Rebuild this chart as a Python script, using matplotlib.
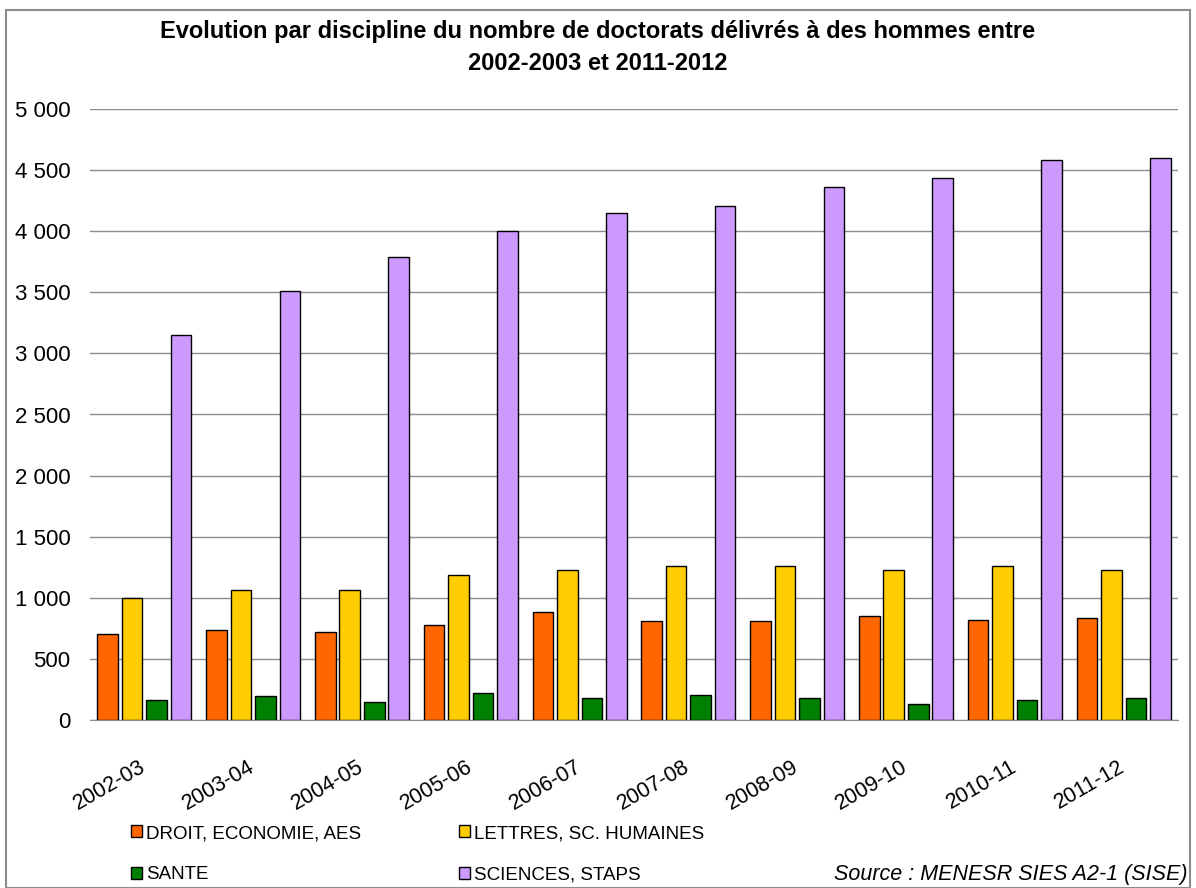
import matplotlib.pyplot as plt
import matplotlib.patches as patches
import matplotlib.transforms as mtransforms
import numpy as np

plt.rcParams['font.family'] = ['Liberation Sans', 'DejaVu Sans']

# Data
years = ['2002-03', '2003-04', '2004-05', '2005-06', '2006-07',
         '2007-08', '2008-09', '2009-10', '2010-11', '2011-12']
droit = [700, 733, 719, 777, 883, 807, 807, 850, 821, 837]
lettres = [1000, 1060, 1060, 1183, 1226, 1259, 1259, 1224, 1259, 1224]
sante = [163, 196, 147, 224, 180, 207, 180, 134, 163, 180]
sciences = [3150, 3510, 3790, 4000, 4150, 4210, 4360, 4435, 4580, 4600]

series = [
    ('DROIT, ECONOMIE, AES', droit, '#FF6600'),
    ('LETTRES, SC. HUMAINES', lettres, '#FFCC00'),
    ('SANTE', sante, '#008000'),
    ('SCIENCES, STAPS', sciences, '#CC99FF'),
]

W, H = 1196, 888
fig = plt.figure(figsize=(W / 100, H / 100), dpi=100)
ax = fig.add_axes([90 / W, 1 - 720 / H, (1178 - 90) / W, (720 - 109) / H])

x = np.arange(len(years))
step = 0.225
width = 0.19
bars = {}
for i, (name, vals, color) in enumerate(series):
    bars[name] = ax.bar(x + (i - 1.5) * step, vals, width, color=color,
                        edgecolor='black', linewidth=1, label=name, zorder=3)

ax.set_xlim(-0.5, len(years) - 0.5)
ax.set_ylim(0, 5000)
ax.set_yticks(range(0, 5001, 500))
ax.set_yticklabels([f'{v:,}'.replace(',', ' ') for v in range(0, 5001, 500)], fontsize=16)
ax.yaxis.grid(True, color='#8c8c8c', linewidth=1, zorder=0)
ax.set_xticks(x)
ax.set_xticklabels(years, fontsize=15.5, rotation=30, ha='right', va='center',
                   rotation_mode='anchor')
shift = mtransforms.ScaledTranslation(-15 / 100, 0, fig.dpi_scale_trans)
for lab in ax.get_xticklabels():
    lab.set_transform(lab.get_transform() + shift)
ax.tick_params(axis='y', length=0, pad=14)
ax.tick_params(axis='x', length=0, pad=33)
for s in ['top', 'right', 'left']:
    ax.spines[s].set_visible(False)
ax.spines['bottom'].set_color('#8c8c8c')

fig.text(0.5, 1 - 38 / H,
         'Evolution par discipline du nombre de doctorats délivrés à des hommes entre',
         ha='center', va='baseline', fontsize=17, fontweight='bold')
fig.text(0.5, 1 - 70 / H, '2002-2003 et 2011-2012',
         ha='center', va='baseline', fontsize=17, fontweight='bold')

leg_kw = dict(frameon=False, fontsize=13.5, handlelength=0.6, handleheight=0.6,
              handletextpad=0.2, labelspacing=1.3, borderpad=0, borderaxespad=0)
fig.legend([bars['DROIT, ECONOMIE, AES'], bars['SANTE']],
           ['DROIT, ECONOMIE, AES', 'SANTE'], loc='upper left',
           bbox_to_anchor=(131 / W, 1 - 825 / H), **leg_kw)
fig.legend([bars['LETTRES, SC. HUMAINES'], bars['SCIENCES, STAPS']],
           ['LETTRES, SC. HUMAINES', 'SCIENCES, STAPS'], loc='upper left',
           bbox_to_anchor=(459 / W, 1 - 825 / H), **leg_kw)

fig.text(1188 / W, 1 - 880 / H, 'Source : MENESR SIES A2-1 (SISE)',
         ha='right', va='baseline', fontsize=15.5, style='italic')

fig.patches.append(patches.Rectangle((6 / W, 0), (1190 - 6) / W, 1 - 10 / H,
                                     transform=fig.transFigure, fill=False,
                                     edgecolor='#8c8c8c', linewidth=1.5))

fig.savefig('out.png', dpi=100)
